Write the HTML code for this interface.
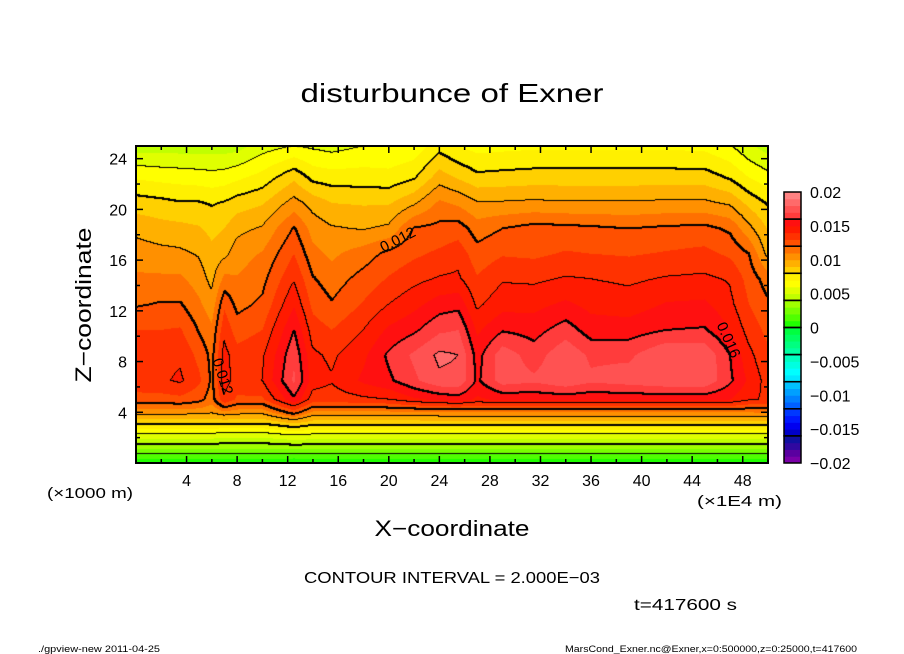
<!DOCTYPE html>
<html><head><meta charset="utf-8"><style>
html,body{margin:0;padding:0;background:#fff;width:904px;height:654px;overflow:hidden}
#wrap{position:relative;width:904px;height:654px}
#field{position:absolute;left:136px;top:146px}
svg{position:absolute;left:0;top:0}
text{font-family:"Liberation Sans",sans-serif;fill:#000}
</style></head><body>
<div id="wrap">
<canvas id="field" width="632" height="317"></canvas>
<svg id="ov" width="904" height="654">
<text x="452" y="102" font-size="26" text-anchor="middle" textLength="303" lengthAdjust="spacingAndGlyphs">disturbunce of Exner</text>
<text transform="translate(91,305) rotate(-90)" font-size="22" text-anchor="middle" textLength="155" lengthAdjust="spacingAndGlyphs">Z−coordinate</text>
<text x="452" y="536" font-size="22" text-anchor="middle" textLength="155" lengthAdjust="spacingAndGlyphs">X−coordinate</text>
<text x="47" y="498" font-size="15" textLength="86" lengthAdjust="spacingAndGlyphs">(×1000 m)</text>
<text x="697" y="506" font-size="15" textLength="85" lengthAdjust="spacingAndGlyphs">(×1E4 m)</text>
<text x="304" y="583" font-size="16" textLength="296" lengthAdjust="spacingAndGlyphs">CONTOUR INTERVAL = 2.000E−03</text>
<text x="634" y="610" font-size="16" textLength="103" lengthAdjust="spacingAndGlyphs">t=417600 s</text>
<text x="38" y="652" font-size="9" textLength="122" lengthAdjust="spacingAndGlyphs">./gpview-new   2011-04-25</text>
<text x="565" y="652" font-size="9" textLength="292" lengthAdjust="spacingAndGlyphs">MarsCond_Exner.nc@Exner,x=0:500000,z=0:25000,t=417600</text>
<g id="ticks"></g>
<g id="cbar"></g>
<text transform="translate(400,244) rotate(-27)" font-size="15" text-anchor="middle">0.012</text>
<text transform="translate(218,378) rotate(72)" font-size="15" text-anchor="middle">0.012</text>
<text transform="translate(724,342) rotate(66)" font-size="15" text-anchor="middle">0.016</text>
<rect x="136" y="146" width="632" height="317" fill="none" stroke="#000" stroke-width="2"/>
</svg>
</div>
<script>
// grid coordinates (x in 1E4 m, z in km)
const xs=[0,2,3.5,5,6,7,8,10,12.5,14,15.5,18,20,22,24,25.5,27,29,31.5,34,36,39,42,45,47,48.5,50];
const zs=[0,1,2,3,4,5,6.5,8.5,10.5,12.5,14.5,16.5,18.5,20.5,22.5,25];
// one row per x column, values at zs
const vals=[
[.0003,.0028,.0052,.0078,.0105,.0125,.0138,.0137,.013,.0119,.0112,.0105,.0097,.0085,.0069,.0045],
[.0003,.0028,.0052,.0078,.0105,.0126,.0138,.0136,.013,.0121,.0112,.0103,.0094,.0083,.0067,.0045],
[.0003,.0028,.0052,.0078,.0105,.0127,.0142,.0138,.0131,.0121,.0112,.0102,.0093,.0081,.0066,.0045],
[.0003,.0028,.0052,.0078,.0104,.0123,.0132,.0127,.0119,.0112,.0105,.0099,.0091,.0081,.0065,.0045],
[.0003,.0028,.0052,.0078,.0102,.0115,.0118,.0117,.0112,.0104,.0097,.0093,.0087,.0079,.0064,.0045],
[.0003,.0027,.005,.0077,.0108,.0138,.0145,.0144,.0137,.0128,.0113,.0097,.009,.0081,.0065,.0045],
[.0003,.0027,.005,.0077,.0105,.0128,.0136,.0134,.0125,.0117,.0111,.0105,.0097,.0085,.0068,.0046],
[.0003,.0027,.005,.0077,.0104,.0128,.014,.0138,.013,.0122,.0117,.0111,.0101,.0089,.0074,.0055],
[.0,.0028,.0055,.0085,.0125,.0158,.0172,.0168,.016,.0149,.0139,.013,.0121,.0104,.0088,.006],
[.0003,.0028,.0053,.008,.0108,.0135,.0145,.0142,.0135,.0127,.0121,.0113,.0106,.0096,.0077,.0058],
[.0003,.0028,.0053,.008,.0108,.0135,.0141,.0138,.013,.0121,.0115,.0108,.0101,.009,.0075,.0056],
[.0003,.0028,.0053,.008,.0108,.0138,.0152,.0148,.014,.0131,.0124,.0115,.0099,.0089,.0075,.006],
[.0003,.0028,.0053,.008,.0108,.014,.0158,.0162,.0152,.014,.0131,.0123,.0102,.0089,.0074,.006],
[.0003,.0028,.0053,.008,.0108,.0148,.0168,.0172,.0158,.0147,.0137,.0128,.0121,.0098,.0079,.0063],
[.0003,.0028,.0053,.008,.011,.0152,.0178,.0182,.0168,.0155,.0141,.0132,.0123,.0112,.0095,.0076],
[.0003,.0028,.0053,.008,.011,.0155,.0178,.018,.017,.0157,.0142,.0136,.0125,.0108,.0089,.007],
[.0003,.0028,.0053,.008,.011,.0148,.0158,.0156,.0148,.0138,.0131,.0124,.0115,.0101,.0083,.0066],
[.0003,.0028,.0053,.008,.011,.0152,.0175,.0176,.0159,.0146,.0139,.0129,.012,.0101,.0084,.0067],
[.0003,.0028,.0053,.008,.011,.0152,.0172,.0165,.0156,.0147,.0138,.0128,.0124,.0102,.0085,.0068],
[.0003,.0028,.0053,.008,.011,.0153,.0178,.0178,.0165,.0152,.0141,.0131,.0123,.0101,.0085,.0068],
[.0003,.0028,.0053,.008,.011,.0152,.0172,.0168,.0155,.0147,.014,.013,.0122,.0101,.0085,.0068],
[.0003,.0028,.0053,.008,.011,.0152,.0175,.0168,.0155,.0145,.0138,.0129,.012,.0101,.0085,.0068],
[.0003,.0028,.0053,.008,.011,.0153,.0178,.018,.016,.0151,.0141,.0131,.0122,.0102,.0085,.0068],
[.0003,.0028,.0053,.008,.011,.0153,.0178,.0178,.0161,.0152,.0142,.0133,.0123,.0102,.0085,.0067],
[.0003,.0028,.0053,.008,.011,.015,.0162,.016,.015,.0143,.0139,.0128,.0118,.0098,.0079,.0061],
[.0003,.0028,.0053,.008,.011,.0142,.0148,.0143,.0136,.013,.0126,.012,.0103,.0087,.007,.0052],
[.0003,.0028,.0053,.008,.0112,.0138,.0136,.0132,.0127,.0122,.0115,.0097,.0089,.0079,.0064,.0045]
];
const xTicks=[4,8,12,16,20,24,28,32,36,40,44,48];
const yTicks=[4,8,12,16,20,24];
const cbarLabels=["0.02","0.015","0.01","0.005","0","−0.005","−0.01","−0.015","−0.02"];
const cbarLabelVals=[0.02,0.015,0.01,0.005,0,-0.005,-0.01,-0.015,-0.02];
const bandColors=[
'#7a00a8','#5a00a0','#3008a0','#1010a0',
'#0000c8','#0000f0','#0018ff','#0038ff',
'#0060ff','#0080ff','#00a0ff','#00c0ff',
'#00e8ff','#00ffff','#00ffe0','#00ffc0',
'#00ffa0','#00ff80','#00ff60','#00ff40',
'#20ff00','#50ff00','#78ff00','#a0ff00',
'#c0ff00','#e0ff00','#ffff00','#fff000',
'#ffd000','#ffb000','#ff9000','#ff7000',
'#ff5000','#ff3200','#ff1a00','#ff1010',
'#ff3c3c','#ff5252','#ff6a6a','#ff8282'];

const PX0=136,PY0=146,PW=632,PH=317,XMAX=50,ZMAX=25;
function xScale(x){return PX0+x/XMAX*PW;}
function zScale(z){return PY0+PH-z/ZMAX*PH;}
function idx(arr,v){let i=0;while(i<arr.length-2&&v>arr[i+1])i++;return i;}
function sample(x,z){
  const i=idx(xs,x),j=idx(zs,z);
  const tx=Math.min(1,Math.max(0,(x-xs[i])/(xs[i+1]-xs[i])));
  const tz=Math.min(1,Math.max(0,(z-zs[j])/(zs[j+1]-zs[j])));
  const a=vals[i][j],b=vals[i+1][j],c=vals[i][j+1],d=vals[i+1][j+1];
  return (a*(1-tx)+b*tx)*(1-tz)+(c*(1-tx)+d*tx)*tz;
}
function hexRGB(h){return [parseInt(h.substr(1,2),16),parseInt(h.substr(3,2),16),parseInt(h.substr(5,2),16)];}
const rgb=bandColors.map(hexRGB);
function band(v){let b=Math.floor((v+0.02)/0.001+1e-9);return Math.max(0,Math.min(39,b));}

const cv=document.getElementById('field'),ctx=cv.getContext('2d');
const img=ctx.createImageData(PW,PH);
const V=new Float32Array(PW*PH);
for(let py=0;py<PH;py++)for(let px=0;px<PW;px++){
  V[py*PW+px]=sample((px+0.5)/PW*XMAX,(PH-py-0.5)/PH*ZMAX);
}
for(let k=0;k<PW*PH;k++){const c=rgb[band(V[k])];img.data[k*4]=c[0];img.data[k*4+1]=c[1];img.data[k*4+2]=c[2];img.data[k*4+3]=255;}
function lvl(v){return Math.floor(v/0.002+1e-9);}
function setBlack(px,py){if(px<0||py<0||px>=PW||py>=PH)return;const k=(py*PW+px)*4;img.data[k]=0;img.data[k+1]=0;img.data[k+2]=0;}
for(let py=0;py<PH;py++)for(let px=0;px<PW;px++){
  const v=V[py*PW+px],l=lvl(v);
  const nb=[];if(px+1<PW)nb.push(V[py*PW+px+1]);if(py+1<PH)nb.push(V[(py+1)*PW+px]);
  for(const w of nb){const m=lvl(w);if(m!==l){const L=Math.max(l,m);setBlack(px,py);if(L%2===0){setBlack(px+1,py);setBlack(px,py+1);}}}
}
ctx.putImageData(img,0,0);

const NS='http://www.w3.org/2000/svg';
const tg=document.getElementById('ticks');
function mk(tag,attrs,parent){const e=document.createElementNS(NS,tag);for(const k in attrs)e.setAttribute(k,attrs[k]);parent.appendChild(e);return e;}
for(let x=2;x<XMAX;x+=2){
  const X=xScale(x),L=(x%4===0)?7:4;
  const t1=mk('line',{x1:X,x2:X,y1:PY0+PH,y2:PY0+PH-L,stroke:'#000','stroke-width':1.5},tg);
  
  
  const t2=mk('line',{x1:X,x2:X,y1:PY0,y2:PY0+L,stroke:'#000','stroke-width':1.5},tg);
  
  
}
for(let z=2;z<ZMAX;z+=2){
  const Y=zScale(z),L=(z%4===0)?7:4;
  const t1=mk('line',{x1:PX0,x2:PX0+L,y1:Y,y2:Y,stroke:'#000','stroke-width':1.5},tg);
  
  
  const t2=mk('line',{x1:PX0+PW,x2:PX0+PW-L,y1:Y,y2:Y,stroke:'#000','stroke-width':1.5},tg);
  
  
}
xTicks.forEach(x=>{
  const t=mk('text',{x:xScale(x),y:486,'font-size':16,'text-anchor':'middle'},tg);
  t.textContent=String(x);
  
  
});
yTicks.forEach(z=>{
  const t=mk('text',{x:127,y:zScale(z)+6,'font-size':16,'text-anchor':'end'},tg);
  t.textContent=String(z);
  
  
});
const cb=document.getElementById('cbar');
const CX=784,CW=17,CT=192,CB=463;
function cbY(v){return CB-(v+0.02)/0.04*(CB-CT);}
bandColors.forEach((c,i)=>{
  const v0=-0.02+i*0.001;
  const r=mk('rect',{x:CX,y:cbY(v0+0.001),width:CW,height:cbY(v0)-cbY(v0+0.001)+0.5,fill:c},cb);
  
  
});
for(let i=0;i<10;i++){
  const v0=-0.02+i*0.004;
  const r=mk('rect',{x:CX,y:cbY(v0+0.004),width:CW,height:cbY(v0)-cbY(v0+0.004),fill:'none',stroke:'#000','stroke-width':1.5},cb);
  
  
}
cbarLabels.forEach((s,i)=>{
  const t=mk('text',{x:810,y:cbY(cbarLabelVals[i])+6,'font-size':16},cb);
  t.textContent=s;
  
  
});
</script>
</body></html>
